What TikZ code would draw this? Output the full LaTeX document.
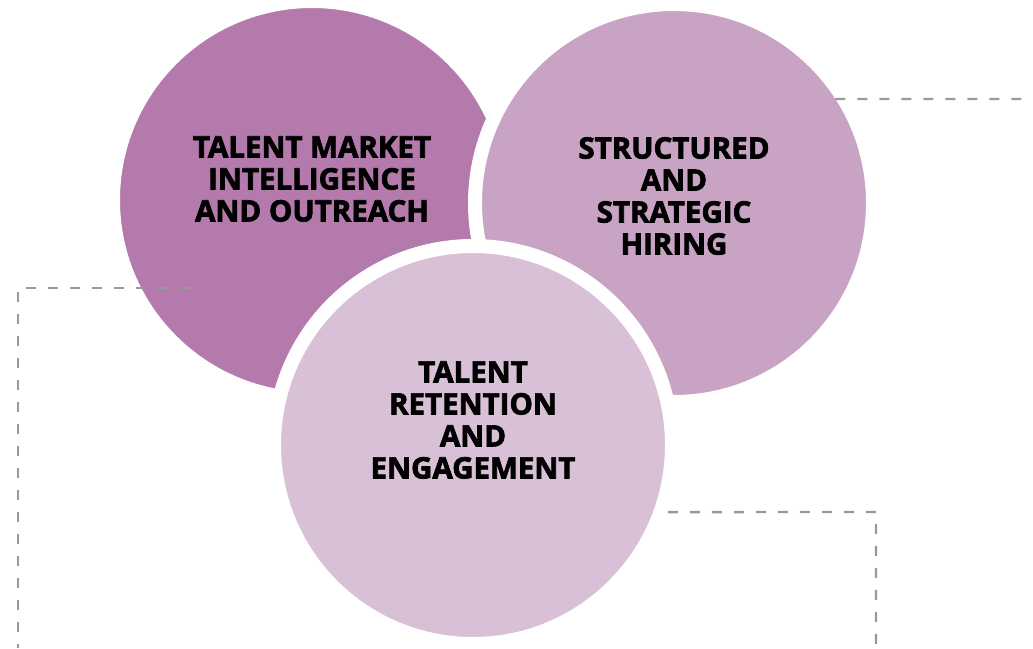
\documentclass[tikz,border=0pt]{standalone}
\usepackage{fontspec}
\setmainfont{Open Sans}[BoldFeatures={FakeBold=2.5}]
\usepackage{tikz}
\usetikzlibrary{calc}
\definecolor{plumdark}{HTML}{B57AAC}
\definecolor{plummid}{HTML}{C9A3C4}
\definecolor{plumlight}{HTML}{D8C1D7}
\definecolor{guidegray}{HTML}{999999}
\tikzset{
  bubble/.style={circle, minimum size=398pt, inner sep=0pt, draw=white, line width=14pt},
  bubbletext/.style={align=center, text=black,
    font=\fontsize{29.5}{32}\selectfont\bfseries},
  guide/.style={draw=guidegray, line width=2.4pt, dash pattern=on 10pt off 12pt},
}

\begin{document}
\begin{tikzpicture}[x=1pt, y=-1pt]
  \useasboundingbox (0,0) rectangle (1033,648);

  % the three overlapping circles
  \node[bubble, fill=plumdark](market) at (312,200){};
  \node[bubble, fill=plummid](hiring) at (674,203){};
  \node[bubble, fill=plumlight](retention) at (473,445){};

  \node[bubbletext](marketlbl) at ($(market.center)+(0,-21)$)
    {TALENT MARKET\\INTELLIGENCE\\AND OUTREACH};
  \node[bubbletext](hiringlbl) at ($(hiring.center)+(0,-7)$)
    {STRUCTURED\\AND\\STRATEGIC\\HIRING};
  \node[bubbletext](retentionlbl) at ($(retention.center)+(0,-25)$)
    {TALENT\\RETENTION\\AND\\ENGAGEMENT};

  % dashed guides
  \coordinate (tr) at (1033,99);
  \coordinate (lstart) at (190,288);
  \coordinate (lcorner) at (18,288);
  \coordinate (lend) at (18,648);
  \coordinate (rcorner) at (876,512);
  \coordinate (rend) at (876,648);

  \draw[guide]($(hiring.center)+(-32.8:192)$)--(tr);
  \draw[guide](lstart)--(lcorner)--(lend);
  \draw[guide](retention.-19)--(rcorner)--(rend);
\end{tikzpicture}
\end{document}
